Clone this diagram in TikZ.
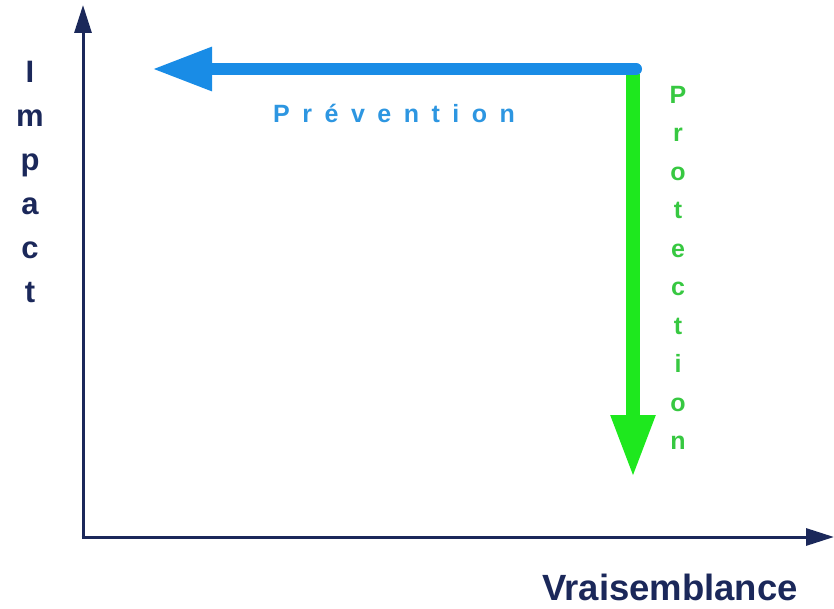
\documentclass[tikz,border=0pt]{standalone}
\usepackage{fontspec}
\setmainfont{Liberation Sans}
\usetikzlibrary{arrows.meta}
\definecolor{navy}{RGB}{27,40,90}
\definecolor{arrowblue}{RGB}{25,140,230}
\definecolor{textblue}{RGB}{45,150,225}
\definecolor{arrowgreen}{RGB}{30,232,30}
\definecolor{textgreen}{RGB}{55,200,65}
\tikzset{
  axisline/.style={draw=navy, line width=3pt, -{Triangle[length=28pt,width=17pt]}},
  bluearrow/.style={draw=arrowblue, line width=12pt, line cap=round, -{Triangle[length=60pt,width=41pt]}},
  greenarrow/.style={draw=arrowgreen, line width=14pt, -{Triangle[length=63pt,width=41pt]}},
  axislabel/.style={text=navy, inner sep=0pt, font=\bfseries},
}
\begin{document}
\begin{tikzpicture}[x=1pt,y=-1pt]
\useasboundingbox (0,0) rectangle (834,609);
% coordinates
\coordinate (origin) at (83,537);
\coordinate (ytop) at (83,5);
\coordinate (xend) at (834,537);
\coordinate (gstart) at (633,74);
\coordinate (gtip) at (633,478);
\coordinate (bstart) at (636,69);
\coordinate (btip) at (152,69);
% axes
\draw[axisline] ([yshift=1.5pt]origin) -- (ytop);
\draw[axisline] ([xshift=-1.5pt]origin) -- (xend);
% arrows
\draw[greenarrow] (gstart) -- (gtip);
\draw[bluearrow] (bstart) -- (btip);
% labels
\node[axislabel, anchor=north, align=center, font=\fontsize{31}{44}\selectfont\bfseries] (impact) at (30,61) {I\\m\\p\\a\\c\\t};
\node[axislabel, anchor=base west, font=\fontsize{36.5}{40}\selectfont\bfseries] (vrais) at (542,600) {Vraisemblance};
\node[text=textblue, inner sep=0pt, anchor=base west, font=\fontsize{25}{30}\selectfont\bfseries\addfontfeature{LetterSpace=50}] (prev) at (273,123) {Prévention};
\node[text=textgreen, inner sep=0pt, anchor=north, align=center, font=\fontsize{25}{38.5}\selectfont\bfseries] (prot) at (678,86) {P\\r\\o\\t\\e\\c\\t\\i\\o\\n};
\end{tikzpicture}
\end{document}
